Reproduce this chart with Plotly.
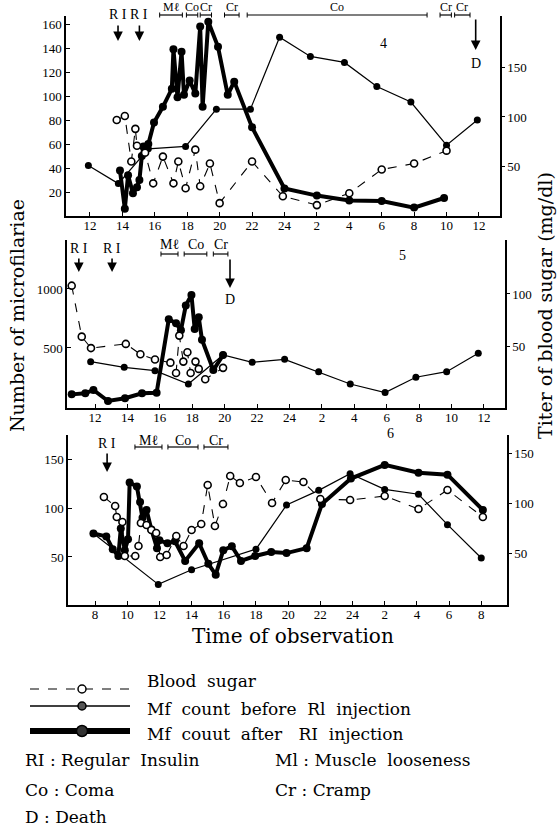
import plotly.graph_objects as go

W, H = 558, 828
FONT = "Liberation Serif"
TFONT = "DejaVu Serif"

# ---------------- data (hours of observation; >24 = next day) ----------------
# Panel 4
bs4_t = [13.65, 14.15, 14.55, 14.8, 14.9, 15.4, 15.9, 16.5, 17.15, 17.45, 17.9, 18.5, 18.8, 19.4, 20.0, 22.0, 23.9, 26.0, 28.0, 30.0, 32.0, 34.0]
bs4_v = [97, 101, 55, 88, 71, 64, 33, 60, 33, 55, 28, 67, 30, 53, 13, 55, 20, 11, 23, 47, 53, 66]
mb4_t = [11.9, 13.75, 15.6, 17.9, 19.8, 21.9, 23.7, 25.6, 27.7, 29.7, 31.8, 34.0, 35.9]
mb4_v = [42, 27, 56, 58, 89, 89, 149, 133, 128, 108, 95, 59, 80]
ma4_t = [13.85, 14.15, 14.35, 14.65, 14.9, 15.05, 15.2, 15.3, 15.6, 15.95, 16.5, 17.05, 17.15, 17.4, 17.65, 17.8, 18.15, 18.5, 18.8, 18.95, 19.3, 19.9, 20.5, 20.9, 22.0, 24.0, 26.0, 28.0, 30.0, 32.0, 33.85]
ma4_v = [38, 6, 34, 19, 24, 30, 50, 58, 60, 78, 91, 106, 139, 99, 137, 101, 113, 102, 158, 91, 162, 141, 101, 112, 74, 23, 17, 13, 12.5, 7, 15]

# Panel 5
bs5_t = [10.56, 11.18, 11.75, 13.9, 14.8, 15.7, 16.65, 17.0, 17.2, 17.45, 17.7, 17.9, 18.2, 18.4, 18.8, 19.9]
bs5_v = [108, 59, 48, 52, 42, 37, 34, 24, 60, 35, 44, 24, 35, 28, 18, 29]
mb5_t = [11.73, 13.8, 15.7, 17.76, 19.9, 21.7, 23.7, 25.8, 27.75, 29.9, 31.8, 33.7, 35.65]
mb5_v = [384, 336, 308, 195, 441, 379, 404, 299, 195, 122, 252, 299, 455]
ma5_t = [10.56, 11.4, 11.9, 12.8, 13.85, 14.9, 15.8, 16.55, 17.0, 17.3, 17.6, 17.95, 18.15, 18.4, 18.6, 19.3, 19.9]
ma5_v = [107, 116, 144, 51, 74, 116, 121, 743, 710, 650, 860, 950, 660, 760, 570, 313, 440]

# Panel 6
bs6_t = [8.55, 9.25, 9.35, 9.7, 9.85, 10.5, 10.7, 10.85, 11.2, 11.5, 11.8, 12.05, 12.45, 13.05, 13.5, 14.0, 14.6, 15.0, 15.45, 15.95, 16.4, 17.0, 18.0, 19.0, 19.85, 20.95, 22.0, 23.85, 26.0, 28.1, 29.9, 32.1]
bs6_v = [106, 97, 86, 81, 47, 47, 57, 80, 78, 73, 70, 46, 48, 67, 57, 73, 79, 118, 77, 99, 127, 120, 126, 100, 123, 121, 104, 103, 107, 94, 113, 86]
mb6_t = [7.9, 11.93, 14.0, 18.0, 19.9, 21.9, 23.85, 26.0, 28.1, 29.9, 32.0]
mb6_v = [74, 22, 37, 58, 103, 118, 135, 119, 114, 83, 49]
ma6_t = [7.9, 8.7, 9.1, 9.45, 9.6, 9.85, 10.05, 10.15, 10.6, 10.8, 10.95, 11.2, 11.5, 11.85, 12.0, 12.5, 12.97, 13.6, 14.47, 15.04, 15.5, 15.97, 16.5, 17.07, 17.95, 18.95, 19.9, 21.15, 22.1, 23.9, 26.0, 28.1, 29.9, 32.1]
ma6_v = [74, 71, 58, 51, 79, 57, 68, 126, 122, 106, 90, 98, 78, 59, 67, 64, 66, 46, 64, 43, 32, 57, 61, 46, 51, 55, 54, 59, 104, 130, 144, 136, 134, 98]

# tick labels
x45_tickvals = [12, 14, 16, 18, 20, 22, 24, 26, 28, 30, 32, 34, 36]
x45_ticktext = ["12", "14", "16", "18", "20", "22", "24", "2", "4", "6", "8", "10", "12"]
x6_tickvals = [8, 10, 12, 14, 16, 18, 20, 22, 24, 26, 28, 30, 32]
x6_ticktext = ["8", "10", "12", "14", "16", "18", "20", "22", "24", "2", "4", "6", "8"]

# events
p4_ri = [13.73, 15.05]
p4_spans = [("M\u2113", 16.3, 17.7), ("Co", 17.95, 18.65), ("Cr", 18.8, 19.5), ("Cr", 20.3, 21.2),
            ("Co", 21.7, 32.8), ("Cr", 33.6, 34.3), ("Cr", 34.5, 35.45)]
p4_death = 35.8
p5_ri = [11.0, 13.05]
p5_spans = [("M\u2113", 16.07, 17.12), ("Co", 17.5, 18.9), ("Cr", 19.3, 20.2)]
p5_death = 20.33
p6_ri = [8.75]
p6_spans = [("M\u2113", 10.48, 12.16), ("Co", 12.53, 14.4), ("Cr", 14.77, 16.26)]


def px(x):
    return x / W


def py(y):
    return 1 - y / H


fig = go.Figure()


def add_panel(xa, ya_l, ya_r, bs_t, bs_v, mb_t, mb_v, ma_t, ma_v):
    fig.add_trace(go.Scatter(x=bs_t, y=bs_v, xaxis=xa, yaxis=ya_r, mode="lines+markers",
                             line=dict(color="black", width=1.1, dash="dash"),
                             marker=dict(symbol="circle", size=7, color="white",
                                         line=dict(color="black", width=1.6)),
                             showlegend=False))
    fig.add_trace(go.Scatter(x=mb_t, y=mb_v, xaxis=xa, yaxis=ya_l, mode="lines+markers",
                             line=dict(color="black", width=1.2),
                             marker=dict(symbol="circle", size=7, color="black"),
                             showlegend=False))
    fig.add_trace(go.Scatter(x=ma_t, y=ma_v, xaxis=xa, yaxis=ya_l, mode="lines+markers",
                             line=dict(color="black", width=4),
                             marker=dict(symbol="circle", size=8, color="black"),
                             showlegend=False))


add_panel("x", "y", "y2", bs4_t, bs4_v, mb4_t, mb4_v, ma4_t, ma4_v)
add_panel("x2", "y3", "y4", bs5_t, bs5_v, mb5_t, mb5_v, ma5_t, ma5_v)
add_panel("x3", "y5", "y6", bs6_t, bs6_v, mb6_t, mb6_v, ma6_t, ma6_v)

tickfont = dict(family=FONT, size=13, color="#000000")
axcommon = dict(showgrid=False, zeroline=False, showline=True, linecolor="black", linewidth=1.5,
                tickfont=tickfont, ticks="inside", ticklen=4, tickcolor="black")
axright = {**axcommon, "ticks": "outside", "ticklen": 3}
axx = {**axcommon, "ticklabelstandoff": -3}

layout = dict(
    width=W, height=H, margin=dict(l=0, r=0, t=0, b=0), autosize=False,
    paper_bgcolor="white", plot_bgcolor="white", showlegend=False,
    font=dict(family=FONT, color="black"),
    xaxis=dict(domain=[px(66), px(500)], anchor="y", range=[10.52, 37.3],
               tickvals=x45_tickvals, ticktext=x45_ticktext, **axx),
    yaxis=dict(domain=[py(216), py(16)], anchor="x", range=[0, 166.7],
               tickvals=[20, 40, 60, 80, 100, 120, 140, 160], **axcommon),
    yaxis2=dict(overlaying="y", side="right", anchor="x", range=[0, 202],
                tickvals=[50, 100, 150], **axright),
    xaxis2=dict(domain=[px(67), px(505)], anchor="y3", range=[10.27, 37.3],
                tickvals=x45_tickvals, ticktext=x45_ticktext, **axx),
    yaxis3=dict(domain=[py(408), py(240)], anchor="x2", range=[-8.5, 1415],
                tickvals=[500, 1000], **axcommon),
    yaxis4=dict(overlaying="y3", side="right", anchor="x2", range=[-9.6, 151.9],
                tickvals=[50, 100], **axright),
    xaxis3=dict(domain=[px(68), px(507)], anchor="y5", range=[6.32, 33.6],
                tickvals=x6_tickvals, ticktext=x6_ticktext, **axx),
    yaxis5=dict(domain=[py(605), py(435)], anchor="x3", range=[1.0, 174.5],
                tickvals=[50, 100, 150], **axcommon),
    yaxis6=dict(overlaying="y5", side="right", anchor="x3", range=[-2, 168],
                tickvals=[50, 100, 150], **axright),
)
fig.update_layout(**layout)

annotations = []
shapes = []


def text(x, y, s, size, xref="paper", xanchor="center", angle=0, family=FONT):
    annotations.append(dict(x=x, y=py(y), xref=xref, yref="paper", text=s, showarrow=False,
                            font=dict(family=family, size=size, color="black"),
                            xanchor=xanchor, yanchor="middle", textangle=angle))


def arrow(xh, xref, y_tail, y_tip):
    annotations.append(dict(x=xh, y=py(y_tip), xref=xref, yref="paper", text="", showarrow=True,
                            ax=0, ay=-(y_tip - y_tail), arrowhead=2, arrowsize=1.2,
                            arrowwidth=1.6, arrowcolor="black"))


def span(label, h0, h1, xref, y_text, y_bar, size=14):
    shapes.append(dict(type="line", xref=xref, yref="paper", x0=h0, x1=h1, y0=py(y_bar), y1=py(y_bar),
                       line=dict(color="black", width=1.2)))
    for h in (h0, h1):
        shapes.append(dict(type="line", xref=xref, yref="paper", x0=h, x1=h,
                           y0=py(y_bar - 2.5), y1=py(y_bar + 2.5), line=dict(color="black", width=1)))
    text((h0 + h1) / 2, y_text, label, size, xref=xref)


# panel 4 events
for h in p4_ri:
    text(h, 15, "R I", 14, xref="x")
    arrow(h, "x", 24, 41)
for lab, h0, h1 in p4_spans:
    span(lab, h0, h1, "x", 7, 15, size=12)
arrow(p4_death, "x", 18, 50)
text(p4_death, 63, "D", 14, xref="x")
text(px(383), 43, "4", 14)

# panel 5 events
for h in p5_ri:
    text(h, 248, "R I", 14, xref="x2")
    arrow(h, "x2", 257, 272)
for lab, h0, h1 in p5_spans:
    span(lab, h0, h1, "x2", 245, 254)
arrow(p5_death, "x2", 258, 288)
text(p5_death, 299, "D", 14, xref="x2")
text(px(402), 255, "5", 14)

# panel 6 events
for h in p6_ri:
    text(h, 443, "R I", 14, xref="x3")
    arrow(h, "x3", 452, 472)
for lab, h0, h1 in p6_spans:
    span(lab, h0, h1, "x3", 440, 447)
text(px(390), 433, "6", 14)

# axis titles
text(px(17), 316, "Number of microfilariae", 19, angle=-90, family=TFONT)
text(px(545), 306, "Titer of blood sugar (mg/dl)", 19, angle=-90, family=TFONT)
text(px(293), 636, "Time of observation", 20, family=TFONT)

# legend samples
shapes.append(dict(type="line", xref="paper", yref="paper", x0=px(30), x1=px(130), y0=py(689), y1=py(689),
                   line=dict(color="black", width=1.2, dash="dash")))
shapes.append(dict(type="line", xref="paper", yref="paper", x0=px(30), x1=px(130), y0=py(706), y1=py(706),
                   line=dict(color="black", width=1.3)))
shapes.append(dict(type="line", xref="paper", yref="paper", x0=px(30), x1=px(130), y0=py(731), y1=py(731),
                   line=dict(color="black", width=6)))
for yy, r, fill in [(689, 4, "white"), (706, 4, "#555"), (731, 5.5, "#333")]:
    shapes.append(dict(type="circle", xref="paper", yref="paper", xsizemode="pixel", ysizemode="pixel",
                       xanchor=px(82), yanchor=py(yy), x0=-r, x1=r, y0=-r, y1=r,
                       fillcolor=fill, line=dict(color="black", width=1.5)))

LS = 17
text(px(145), 681, "Blood  sugar", LS, xanchor="left", family=TFONT)
text(px(145), 709, "Mf  count  before  Rl  injection", LS, xanchor="left", family=TFONT)
text(px(145), 734, "Mf  couut  after   RI  injection", LS, xanchor="left", family=TFONT)
text(px(23), 760, "RI : Regular  Insulin", LS, xanchor="left", family=TFONT)
text(px(273), 760, "Ml : Muscle  looseness", LS, xanchor="left", family=TFONT)
text(px(23), 790, "Co : Coma", LS, xanchor="left", family=TFONT)
text(px(273), 790, "Cr : Cramp", LS, xanchor="left", family=TFONT)
text(px(23), 817, "D : Death", LS, xanchor="left", family=TFONT)

fig.update_layout(annotations=annotations, shapes=shapes)
fig.write_html("out.html", config={"displayModeBar": False},
               post_script="document.body.style.margin='0px';")
